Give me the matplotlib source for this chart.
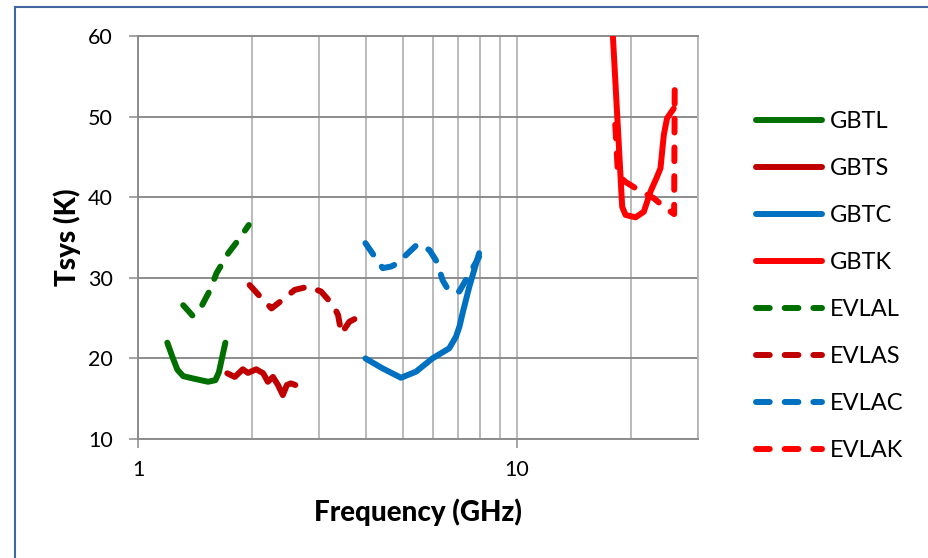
import matplotlib
matplotlib.use("Agg")
import matplotlib.pyplot as plt
from matplotlib.ticker import FixedLocator, NullFormatter
from matplotlib.lines import Line2D

plt.rcParams['font.family'] = ['Lato', 'DejaVu Sans']

# System temperature curves (frequency in GHz, Tsys in K)
gbtl_f = [1.195, 1.23, 1.27, 1.316, 1.40, 1.53, 1.60, 1.635, 1.67, 1.70]
gbtl_t = [21.95, 20.3, 18.6, 17.8, 17.5, 17.1, 17.3, 18.3, 20.3, 21.95]

gbts_f = [1.72, 1.80, 1.89, 1.95, 2.05, 2.14, 2.20, 2.27, 2.34, 2.41, 2.47, 2.53, 2.60]
gbts_t = [18.15, 17.7, 18.65, 18.2, 18.65, 18.15, 17.1, 17.7, 16.7, 15.45, 16.7, 16.9, 16.7]

gbtc_f = [3.98, 4.42, 4.94, 5.41, 5.98, 6.62, 6.90, 7.05, 7.18, 7.48, 7.94]
gbtc_t = [20.0, 18.75, 17.6, 18.35, 20.0, 21.25, 22.7, 24.0, 25.6, 28.9, 33.05]

gbtk_f = [17.65, 17.89, 18.93, 19.32, 20.53, 21.59, 22.48, 23.40, 23.89, 24.37, 24.86, 25.89]
gbtk_t = [65.0, 60.0, 38.8, 37.8, 37.5, 38.2, 40.7, 42.55, 43.6, 47.7, 49.8, 51.0]

evlal_f = [1.316, 1.393, 1.47, 1.55, 1.61, 1.73, 1.84, 1.96]
evlal_t = [26.6, 25.3, 26.45, 28.5, 30.55, 33.05, 34.7, 36.55]

evlas_f = [1.97, 2.12, 2.25, 2.41, 2.59, 2.81, 3.04, 3.27, 3.37, 3.44, 3.61, 3.84]
evlas_t = [29.1, 27.45, 26.2, 27.3, 28.5, 28.9, 28.3, 26.6, 25.4, 23.1, 24.55, 25.2]

evlac_f = [3.98, 4.20, 4.42, 4.65, 4.84, 5.14, 5.47, 5.87, 6.14, 6.36, 6.62, 7.04, 7.40, 7.94]
evlac_t = [34.3, 32.7, 31.2, 31.4, 31.8, 33.0, 34.2, 33.45, 32.0, 29.7, 28.3, 28.3, 30.1, 32.6]

evlak_f = [18.15, 18.45, 19.3, 20.9, 22.9, 24.4, 25.95, 26.05]
evlak_t = [49.0, 42.8, 41.9, 40.9, 39.9, 38.8, 37.9, 54.5]

series = [
    ("GBTL", gbtl_f, gbtl_t, "#006F00", "-"),
    ("GBTS", gbts_f, gbts_t, "#C00000", "-"),
    ("GBTC", gbtc_f, gbtc_t, "#0070C0", "-"),
    ("GBTK", gbtk_f, gbtk_t, "#FF0000", "-"),
    ("EVLAL", evlal_f, evlal_t, "#006F00", "--"),
    ("EVLAS", evlas_f, evlas_t, "#C00000", "--"),
    ("EVLAC", evlac_f, evlac_t, "#0070C0", "--"),
    ("EVLAK", evlak_f, evlak_t, "#FF0000", "--"),
]

W, H = 929, 558
fig = plt.figure(figsize=(W / 100, H / 100), dpi=100)
ax = fig.add_axes([138 / W, 1 - 439 / H, 560 / W, 403 / H])

lw = 4.3
for name, f, t, color, style in series:
    kw = dict(color=color, lw=lw, label=name, solid_capstyle='round',
              solid_joinstyle='round', dash_capstyle='round', dash_joinstyle='round', zorder=3)
    if style == "--":
        ax.plot(f, t, linestyle=(0, (2.3, 2.5)), **kw)
    else:
        ax.plot(f, t, linestyle='-', **kw)

ax.set_xscale('log')
ax.set_xlim(1, 30)
ax.set_ylim(10, 60)

# axis ticks and grid
ax.xaxis.set_major_locator(FixedLocator([1, 10]))
ax.set_xticklabels(['1', '10'])
ax.xaxis.set_minor_locator(FixedLocator([2, 3, 4, 5, 6, 7, 8, 9, 20, 30]))
ax.xaxis.set_minor_formatter(NullFormatter())
ax.set_yticks([10, 20, 30, 40, 50, 60])

ax.tick_params(axis='x', which='major', length=6.5, width=1.1, color='#8C8C8C',
               labelsize=15.5, pad=8.6, direction='out')
ax.tick_params(axis='x', which='minor', length=0)
ax.tick_params(axis='y', which='major', length=6.5, width=1.1, color='#8C8C8C',
               labelsize=15.5, pad=11.5, direction='out')

ax.grid(True, axis='x', which='both', color='#B4B4B4', lw=1.3, zorder=0)
ax.grid(True, axis='y', which='major', color='#8C8C8C', lw=1.4, zorder=0)
ax.set_axisbelow(True)

for side in ['left', 'bottom', 'top']:
    ax.spines[side].set_color('#8C8C8C')
    ax.spines[side].set_linewidth(1.4)
ax.spines['right'].set_color('#B4B4B4')
ax.spines['right'].set_linewidth(1.3)

fig.text(67 / W, 1 - 237 / H, 'Tsys (K)', rotation=90, ha='center', va='center',
         fontsize=20, fontweight='black')
fig.text(418 / W, 1 - 512 / H, 'Frequency (GHz)', ha='center', va='center',
         fontsize=20, fontweight='black')

leg = ax.legend(loc='upper left', bbox_to_anchor=(756 / W, 1 - 111 / H),
                bbox_transform=fig.transFigure, frameon=False, fontsize=17,
                handlelength=2.8, handletextpad=0.34, labelspacing=1.1,
                borderaxespad=0, borderpad=0)

# outer frame of the chart area
fig.add_artist(Line2D([15 / W, 15 / W], [0, 1 - 7 / H], color='#41679F', lw=1.5,
                      transform=fig.transFigure))
fig.add_artist(Line2D([15 / W, 1], [1 - 7 / H, 1 - 7 / H], color='#41679F', lw=1.5,
                      transform=fig.transFigure))

fig.savefig('out.png', dpi=100)
